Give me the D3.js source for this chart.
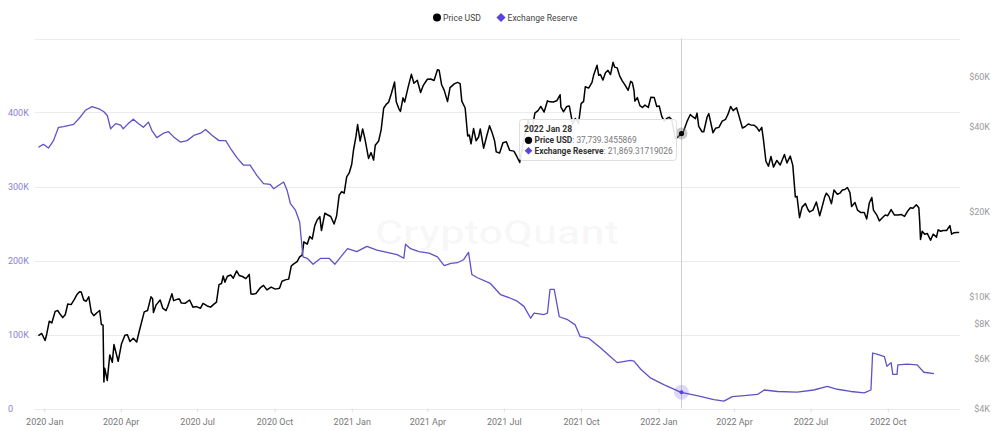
<!DOCTYPE html>
<html><head><meta charset="utf-8">
<script src="https://cdn.jsdelivr.net/npm/d3@7"></script>
<style>
html,body{margin:0;padding:0;background:#fff;}
svg{display:block;font-family:Roboto,"Open Sans",sans-serif;}
</style></head><body>
<svg id="chart" width="1000" height="431"></svg>
<script>
// ---------------- DATA ----------------
const priceDates = ["2019-12-25","2019-12-29","2020-01-02","2020-01-04","2020-01-07","2020-01-10","2020-01-14","2020-01-17","2020-01-20","2020-01-23","2020-01-26","2020-01-29","2020-02-02","2020-02-06","2020-02-09","2020-02-12","2020-02-14","2020-02-17","2020-02-20","2020-02-23","2020-02-26","2020-02-29","2020-03-04","2020-03-07","2020-03-09","2020-03-11","2020-03-12","2020-03-13","2020-03-16","2020-03-19","2020-03-22","2020-03-24","2020-03-29","2020-04-02","2020-04-06","2020-04-09","2020-04-12","2020-04-16","2020-04-20","2020-04-23","2020-04-29","2020-05-03","2020-05-07","2020-05-09","2020-05-10","2020-05-13","2020-05-18","2020-05-21","2020-05-25","2020-05-27","2020-06-01","2020-06-03","2020-06-07","2020-06-10","2020-06-12","2020-06-17","2020-06-22","2020-06-26","2020-06-30","2020-07-05","2020-07-08","2020-07-13","2020-07-17","2020-07-21","2020-07-24","2020-07-27","2020-07-30","2020-08-01","2020-08-03","2020-08-06","2020-08-10","2020-08-13","2020-08-17","2020-08-20","2020-08-24","2020-08-28","2020-09-01","2020-09-03","2020-09-05","2020-09-09","2020-09-14","2020-09-18","2020-09-22","2020-09-27","2020-10-02","2020-10-07","2020-10-10","2020-10-14","2020-10-18","2020-10-21","2020-10-24","2020-10-28","2020-10-31","2020-11-03","2020-11-05","2020-11-09","2020-11-12","2020-11-15","2020-11-18","2020-11-21","2020-11-24","2020-11-26","2020-11-30","2020-12-03","2020-12-07","2020-12-11","2020-12-14","2020-12-17","2020-12-20","2020-12-23","2020-12-26","2020-12-29","2021-01-01","2021-01-03","2021-01-06","2021-01-08","2021-01-11","2021-01-14","2021-01-17","2021-01-21","2021-01-24","2021-01-27","2021-01-29","2021-02-02","2021-02-05","2021-02-08","2021-02-11","2021-02-14","2021-02-17","2021-02-21","2021-02-23","2021-02-26","2021-02-28","2021-03-03","2021-03-05","2021-03-09","2021-03-13","2021-03-16","2021-03-20","2021-03-24","2021-03-27","2021-04-01","2021-04-05","2021-04-09","2021-04-13","2021-04-15","2021-04-18","2021-04-21","2021-04-25","2021-04-28","2021-05-03","2021-05-07","2021-05-10","2021-05-12","2021-05-16","2021-05-19","2021-05-21","2021-05-23","2021-05-26","2021-05-29","2021-06-01","2021-06-03","2021-06-07","2021-06-11","2021-06-14","2021-06-17","2021-06-20","2021-06-22","2021-06-26","2021-06-30","2021-07-04","2021-07-08","2021-07-13","2021-07-16","2021-07-20","2021-07-23","2021-07-26","2021-07-30","2021-08-03","2021-08-07","2021-08-11","2021-08-14","2021-08-18","2021-08-22","2021-08-25","2021-08-29","2021-09-02","2021-09-06","2021-09-07","2021-09-10","2021-09-14","2021-09-17","2021-09-21","2021-09-24","2021-09-28","2021-10-01","2021-10-04","2021-10-06","2021-10-10","2021-10-14","2021-10-16","2021-10-20","2021-10-22","2021-10-24","2021-10-27","2021-10-30","2021-11-02","2021-11-05","2021-11-08","2021-11-10","2021-11-13","2021-11-16","2021-11-19","2021-11-22","2021-11-26","2021-11-29","2021-12-01","2021-12-03","2021-12-04","2021-12-07","2021-12-10","2021-12-13","2021-12-16","2021-12-20","2021-12-23","2021-12-27","2021-12-30","2022-01-02","2022-01-05","2022-01-08","2022-01-11","2022-01-14","2022-01-17","2022-01-21","2022-01-24","2022-01-28","2022-01-31","2022-02-04","2022-02-08","2022-02-10","2022-02-14","2022-02-16","2022-02-18","2022-02-22","2022-02-24","2022-02-28","2022-03-02","2022-03-07","2022-03-10","2022-03-14","2022-03-18","2022-03-22","2022-03-25","2022-03-28","2022-03-31","2022-04-04","2022-04-07","2022-04-11","2022-04-14","2022-04-18","2022-04-21","2022-04-25","2022-04-28","2022-05-01","2022-05-04","2022-05-06","2022-05-09","2022-05-12","2022-05-15","2022-05-18","2022-05-22","2022-05-26","2022-05-31","2022-06-03","2022-06-07","2022-06-10","2022-06-13","2022-06-15","2022-06-18","2022-06-21","2022-06-25","2022-06-28","2022-06-30","2022-07-04","2022-07-08","2022-07-12","2022-07-15","2022-07-18","2022-07-20","2022-07-23","2022-07-26","2022-07-29","2022-08-02","2022-08-05","2022-08-08","2022-08-11","2022-08-14","2022-08-17","2022-08-19","2022-08-23","2022-08-26","2022-08-30","2022-09-03","2022-09-06","2022-09-09","2022-09-12","2022-09-14","2022-09-18","2022-09-21","2022-09-24","2022-09-28","2022-10-01","2022-10-05","2022-10-09","2022-10-13","2022-10-17","2022-10-21","2022-10-25","2022-10-28","2022-10-31","2022-11-04","2022-11-07","2022-11-08","2022-11-09","2022-11-11","2022-11-14","2022-11-17","2022-11-21","2022-11-24","2022-11-28","2022-11-30","2022-12-03","2022-12-06","2022-12-10","2022-12-14","2022-12-16","2022-12-19","2022-12-22","2022-12-25"];
const priceValues = [7250,7380,6970,7350,8160,8040,8840,8900,8630,8400,8600,9390,9340,9770,10150,10380,10360,9700,9600,9960,8780,8540,8760,8900,7940,7900,4970,5560,5030,6190,5830,6740,5880,6790,7270,7300,6910,7100,6880,7500,8800,8900,9950,9800,8750,9300,9700,9080,8900,9200,10200,9650,9750,9770,9470,9450,9700,9150,9190,9070,9430,9240,9150,9380,9530,11000,11100,11800,11220,11770,11900,11590,12300,11850,11750,11550,11950,10200,10170,10230,10700,10930,10530,10780,10600,10670,11300,11430,11500,12800,13030,13270,13800,14000,15600,15300,16300,15960,17800,18680,19150,17100,19700,19450,19170,18040,19250,22800,23480,23200,26500,27360,29370,32800,36800,40600,35500,39200,35800,30800,32300,30400,34300,35500,38900,46400,47900,48800,52100,57500,48900,46300,45200,50500,48800,54900,61200,56900,58300,52800,55800,58800,58900,58200,63500,63300,56200,53800,49000,54900,56600,57300,56700,49200,46500,37000,37300,34700,39300,35600,36700,39200,33500,37300,40200,38100,35600,32500,32200,35000,35300,32900,32700,31500,29800,33600,37300,42200,38200,44600,45600,47100,45000,49300,48900,48800,49300,51800,46800,45100,47100,47300,40700,42700,41000,48200,49100,55300,54700,57300,60900,65900,60700,61100,58400,62000,63200,61100,67500,64900,64500,60300,58000,56300,53700,57800,57200,53600,49200,50600,47400,46700,47600,46700,50800,50700,47100,47300,43400,41800,42700,43100,42200,36300,36600,37739.3455869,38480,41600,44100,43500,42600,44600,40000,38300,38300,43200,44400,38000,39400,39700,41800,42400,44300,47100,45500,46600,43500,39500,39900,40800,40500,40400,39700,38500,39700,36000,30100,28900,31300,28700,30300,29200,31800,29700,31400,29100,22500,22600,19000,20700,21300,20300,19900,20200,21600,19300,20800,22500,23200,22600,21300,23800,23000,23200,23800,23900,24300,23300,20800,21500,20200,19800,19800,18800,21400,22400,20200,19400,18500,18900,19400,19300,20300,19400,19400,19500,19200,20100,20600,20500,21100,20600,18500,15900,17000,16600,16700,15800,16600,16200,17200,17000,17100,17100,17800,16600,16800,16830,16830];

const reserveDates = ["2019-12-25","2019-12-31","2020-01-06","2020-01-12","2020-01-18","2020-01-24","2020-02-05","2020-02-13","2020-02-19","2020-02-27","2020-03-06","2020-03-12","2020-03-16","2020-03-20","2020-03-26","2020-04-01","2020-04-04","2020-04-10","2020-04-16","2020-04-22","2020-04-28","2020-05-04","2020-05-08","2020-05-14","2020-05-22","2020-05-28","2020-06-03","2020-06-11","2020-06-19","2020-06-27","2020-07-05","2020-07-11","2020-07-19","2020-07-27","2020-08-04","2020-08-10","2020-08-18","2020-08-25","2020-09-02","2020-09-10","2020-09-18","2020-09-26","2020-09-30","2020-10-04","2020-10-12","2020-10-16","2020-10-20","2020-10-26","2020-10-31","2020-11-02","2020-11-04","2020-11-09","2020-11-16","2020-11-25","2020-12-05","2020-12-12","2020-12-19","2020-12-27","2021-01-07","2021-01-19","2021-01-31","2021-02-12","2021-02-24","2021-03-04","2021-03-06","2021-03-12","2021-03-22","2021-04-03","2021-04-13","2021-04-21","2021-04-29","2021-05-07","2021-05-14","2021-05-20","2021-05-24","2021-05-30","2021-06-15","2021-06-27","2021-07-09","2021-07-17","2021-07-25","2021-08-02","2021-08-06","2021-08-18","2021-08-22","2021-08-25","2021-08-30","2021-09-05","2021-09-15","2021-09-24","2021-09-30","2021-10-10","2021-10-24","2021-11-05","2021-11-13","2021-11-29","2021-12-03","2021-12-11","2021-12-23","2022-01-08","2022-01-28","2022-02-16","2022-03-08","2022-03-20","2022-03-30","2022-04-13","2022-04-29","2022-05-07","2022-05-23","2022-06-15","2022-07-05","2022-07-21","2022-08-02","2022-08-18","2022-09-03","2022-09-11","2022-09-13","2022-09-19","2022-09-27","2022-09-30","2022-10-05","2022-10-07","2022-10-12","2022-10-13","2022-10-24","2022-11-05","2022-11-13","2022-11-25"];
const reserveValues = [353000,357000,352000,362000,380000,381000,384000,394000,403000,408000,405000,401000,396000,378000,385000,383000,378000,385000,391000,385000,380000,387000,376000,366000,372000,374000,367000,360000,362000,369000,372000,377000,369000,362000,362000,351000,338000,329000,329000,315000,304000,303000,297000,300000,306000,295000,277000,268000,252000,228000,205000,203000,195000,203000,203000,195000,205000,216000,212000,219000,214000,211000,208000,203000,222000,216000,212000,210000,205000,193000,196000,197000,201000,211000,181000,177000,169000,154000,149000,145000,138000,122000,129000,127000,129000,161000,161000,124000,120000,113000,97000,95000,82000,70000,62000,65000,64000,53000,41000,32000,21869.31719026,17500,12000,10000,16000,17500,19000,25000,23000,22000,25000,30000,26000,23000,21000,25000,75000,73000,70000,57000,62000,46000,46000,59000,60000,59000,49000,47000];

const seriesNames = ["Price USD","Exchange Reserve"];
const leftTicks = [0,100000,200000,300000,400000];
const leftTickLabels = ["0","100K","200K","300K","400K"];
const gridTicks = [0,100000,200000,300000,400000,500000];
const rightTicks = [4000,6000,8000,10000,20000,40000,60000];
const rightTickLabels = ["$4K","$6K","$8K","$10K","$20K","$40K","$60K"];
const xTickDates = ["2020-01-01","2020-04-01","2020-07-01","2020-10-01","2021-01-01","2021-04-01","2021-07-01","2021-10-01","2022-01-01","2022-04-01","2022-07-01","2022-10-01"];
const xTickLabels = ["2020 Jan","2020 Apr","2020 Jul","2020 Oct","2021 Jan","2021 Apr","2021 Jul","2021 Oct","2022 Jan","2022 Apr","2022 Jul","2022 Oct"];
const hoverDate = "2022-01-28";
const hoverPrice = 37739.3455869;
const hoverReserve = 21869.31719026;

// ---------------- CHART ----------------
const parse = d3.utcParse("%Y-%m-%d");
const svg = d3.select("#chart");
const plotL = 35, plotR = 960, plotT = 38.5, plotB = 408.5;
const priceColor = "#000000", reserveColor = "#5e52c6", reserveMarker = "#5b43dc";

const x = d3.scaleUtc().domain([parse("2019-12-21"), parse("2022-12-26")]).range([plotL, plotR]);
const yL = d3.scaleLinear().domain([0, 500000]).range([plotB, plotT]);
const yR = d3.scaleLog().domain([4000, 82000]).range([plotB, plotT]);

const price = priceDates.map((d,i)=>({date:parse(d), v:priceValues[i]}));
const reserve = reserveDates.map((d,i)=>({date:parse(d), v:reserveValues[i]}));

// gridlines
svg.append("g").selectAll("line").data(gridTicks).join("line")
  .attr("x1", plotL).attr("x2", plotR)
  .attr("y1", d=>Math.round(yL(d))+0.5).attr("y2", d=>Math.round(yL(d))+0.5)
  .attr("stroke", "#ebebeb").attr("stroke-width", 1);

// watermark
svg.append("text").attr("x", 497).attr("y", 244).attr("text-anchor","middle")
  .attr("font-size", 34).attr("font-weight", 500)
  .attr("textLength", 244).attr("lengthAdjust","spacingAndGlyphs")
  .attr("fill", "#000").attr("fill-opacity", 0.04).text("CryptoQuant");

// left axis
const axL = svg.append("g").attr("transform", `translate(${plotL},0)`)
  .call(d3.axisLeft(yL).tickValues(leftTicks).tickSize(0)
    .tickFormat((d,i)=>leftTickLabels[i]));
axL.select(".domain").remove();
axL.selectAll("text").attr("text-anchor","start").attr("x", 8-plotL)
  .attr("fill", "#8a82cf").attr("font-size", 9).attr("font-family","Roboto, sans-serif");

// right axis
const axR = svg.append("g").attr("transform", `translate(${plotR},0)`)
  .call(d3.axisRight(yR).tickValues(rightTicks).tickSize(0)
    .tickFormat((d,i)=>rightTickLabels[i]));
axR.select(".domain").remove();
axR.selectAll("text").attr("text-anchor","end").attr("x", 990-plotR)
  .attr("fill", "#9a9a9a").attr("font-size", 9).attr("font-family","Roboto, sans-serif");

// bottom axis
const axB = svg.append("g").attr("transform", `translate(0,${plotB})`)
  .call(d3.axisBottom(x).tickValues(xTickDates.map(parse)).tickSize(4).tickPadding(6)
    .tickFormat((d,i)=>xTickLabels[i]));
axB.select(".domain").remove();
axB.selectAll("line").attr("stroke", "#e0e0e0");
axB.selectAll("text").attr("fill", "#777").attr("font-size", 9).attr("font-family","Roboto, sans-serif");

// crosshair
const hx = Math.round(x(parse(hoverDate))) + 0.5;
svg.append("line").attr("x1", hx).attr("x2", hx).attr("y1", plotT).attr("y2", plotB)
  .attr("stroke", "#cfcfcf").attr("stroke-width", 1);

// lines
const linePrice = d3.line().x(d=>x(d.date)).y(d=>yR(d.v));
const lineReserve = d3.line().x(d=>x(d.date)).y(d=>yL(d.v));
svg.append("path").datum(price).attr("d", linePrice).attr("fill","none")
  .attr("stroke", priceColor).attr("stroke-width", 1.5).attr("stroke-linejoin","round");
svg.append("path").datum(reserve).attr("d", lineReserve).attr("fill","none")
  .attr("stroke", reserveColor).attr("stroke-width", 1.3).attr("stroke-linejoin","round");

// hover markers
const hp = yR(hoverPrice), hr = yL(hoverReserve);
svg.append("circle").attr("cx", hx).attr("cy", hp).attr("r", 6).attr("fill", "#888").attr("fill-opacity", 0.45);
svg.append("circle").attr("cx", hx).attr("cy", hp).attr("r", 2.6).attr("fill", "#000");
svg.append("circle").attr("cx", hx).attr("cy", hr).attr("r", 7.5).attr("fill", reserveMarker).attr("fill-opacity", 0.2);
svg.append("circle").attr("cx", hx).attr("cy", hr).attr("r", 2).attr("fill", reserveMarker);

// diamond = rotated square
const diamond = s => `M0,${-s}L${s},0L0,${s}L${-s},0Z`;

// legend
const lg = svg.append("g").attr("font-size", 8.6).attr("fill", "#444");
lg.append("circle").attr("cx", 437).attr("cy", 17.5).attr("r", 4).attr("fill", priceColor);
lg.append("text").attr("x", 443).attr("y", 20.6).text(seriesNames[0]);
lg.append("path").attr("d", diamond(4.6)).attr("transform","translate(501,17.5)").attr("fill", reserveMarker);
lg.append("text").attr("x", 507.5).attr("y", 20.6).text(seriesNames[1]);

// tooltip
const fmtNum = v => { const s = String(v).split("."); return d3.format(",")(+s[0]) + (s[1] ? "." + s[1] : ""); };
const tt = svg.append("g");
tt.append("rect").attr("x", 519.5).attr("y", 119.5).attr("width", 157).attr("height", 41).attr("rx", 3)
  .attr("fill", "#fff").attr("fill-opacity", 0.9).attr("stroke", "#dedede");
tt.append("text").attr("x", 524).attr("y", 132).attr("font-size", 8.6).attr("font-weight", 700).attr("fill", "#333")
  .text(d3.utcFormat("%Y %b %d")(parse(hoverDate)));
tt.append("circle").attr("cx", 528.5).attr("cy", 140.3).attr("r", 3.6).attr("fill", priceColor);
const t1 = tt.append("text").attr("x", 534.5).attr("y", 143.4).attr("font-size", 8.4);
t1.append("tspan").attr("font-weight", 700).attr("fill", "#333").text(seriesNames[0]);
t1.append("tspan").attr("fill", "#777").text(": " + fmtNum(hoverPrice));
tt.append("path").attr("d", diamond(3.8)).attr("transform","translate(528.5,150.8)").attr("fill", reserveMarker);
const t2 = tt.append("text").attr("x", 534.5).attr("y", 154).attr("font-size", 8.4);
t2.append("tspan").attr("font-weight", 700).attr("fill", "#333").text(seriesNames[1]);
t2.append("tspan").attr("fill", "#777").text(": " + fmtNum(hoverReserve));
</script>
</body></html>
